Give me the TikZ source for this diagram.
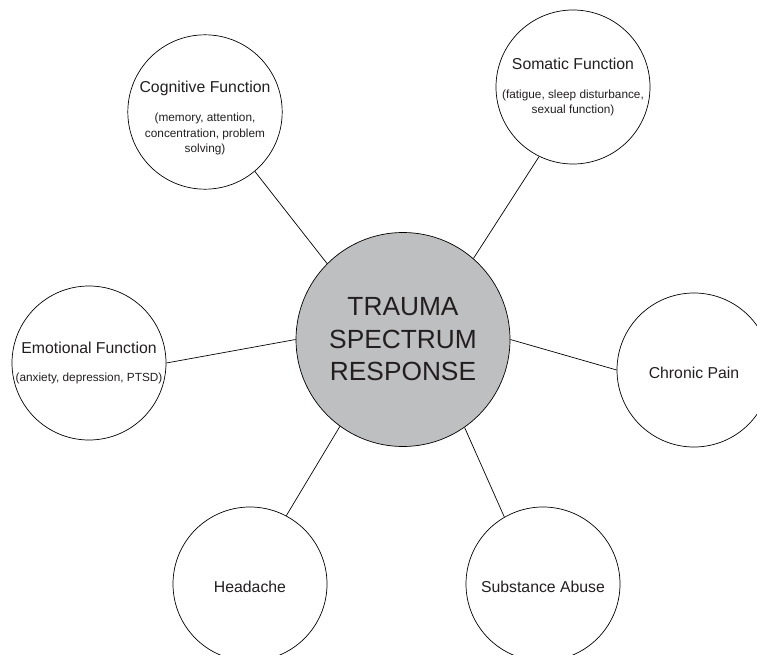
\documentclass[tikz,border=0pt]{standalone}
\usepackage{fontspec}
\setmainfont{Liberation Sans}
\definecolor{hubgray}{RGB}{190,191,193}
\definecolor{inkgray}{RGB}{35,31,32}
\newcommand{\areatitle}[1]{{\fontsize{15.8}{19}\selectfont #1}}
\begin{document}
\begin{tikzpicture}[x=1pt, y=-1pt,
  area/.style={circle, draw=black, line width=0.7pt, fill=white, minimum size=154pt, inner sep=0pt, align=center, text=inkgray, font=\fontsize{11.8}{15.5}\selectfont},
  hub/.style={circle, draw=black, line width=0.7pt, fill=hubgray, minimum size=214pt, inner sep=0pt, align=center, text=inkgray, font=\fontsize{26.3}{32.5}\selectfont},
  spoke/.style={draw=black, line width=0.7pt}]
\useasboundingbox (0,0) rectangle (757,655);
\node [hub] (trauma) at (403,339.5) {TRAUMA\\SPECTRUM\\RESPONSE};
\node [area, text height=82pt, text depth=0pt] (cognitive) at (205,112) {\areatitle{Cognitive Function}\\[13.5pt](memory, attention,\\concentration, problem\\solving)};
\node [area] (somatic) at (573,87) {\areatitle{Somatic Function}\\[13.5pt](fatigue, sleep disturbance,\\sexual function)};
\node [area] (emotional) at (89,363) {\areatitle{Emotional Function}\\[13pt](anxiety, depression, PTSD)};
\node [area, text height=17pt, text depth=0pt] (pain) at (694,370) {\areatitle{Chronic Pain}};
\node [area, text height=17pt, text depth=0pt] (headache) at (250,584) {\areatitle{Headache}};
\node [area, text height=17pt, text depth=0pt] (substance) at (543,584) {\areatitle{Substance Abuse}};
\draw [spoke] (trauma.135) -- (cognitive.310);
\draw [spoke] (trauma.49) -- (somatic.244);
\draw [spoke] (trauma.west) -- (emotional.east);
\draw [spoke] (trauma.east) -- (pain.west);
\draw [spoke] (trauma.234) -- (headache.62);
\draw [spoke] (trauma.305) -- (substance.120);
\end{tikzpicture}
\end{document}
